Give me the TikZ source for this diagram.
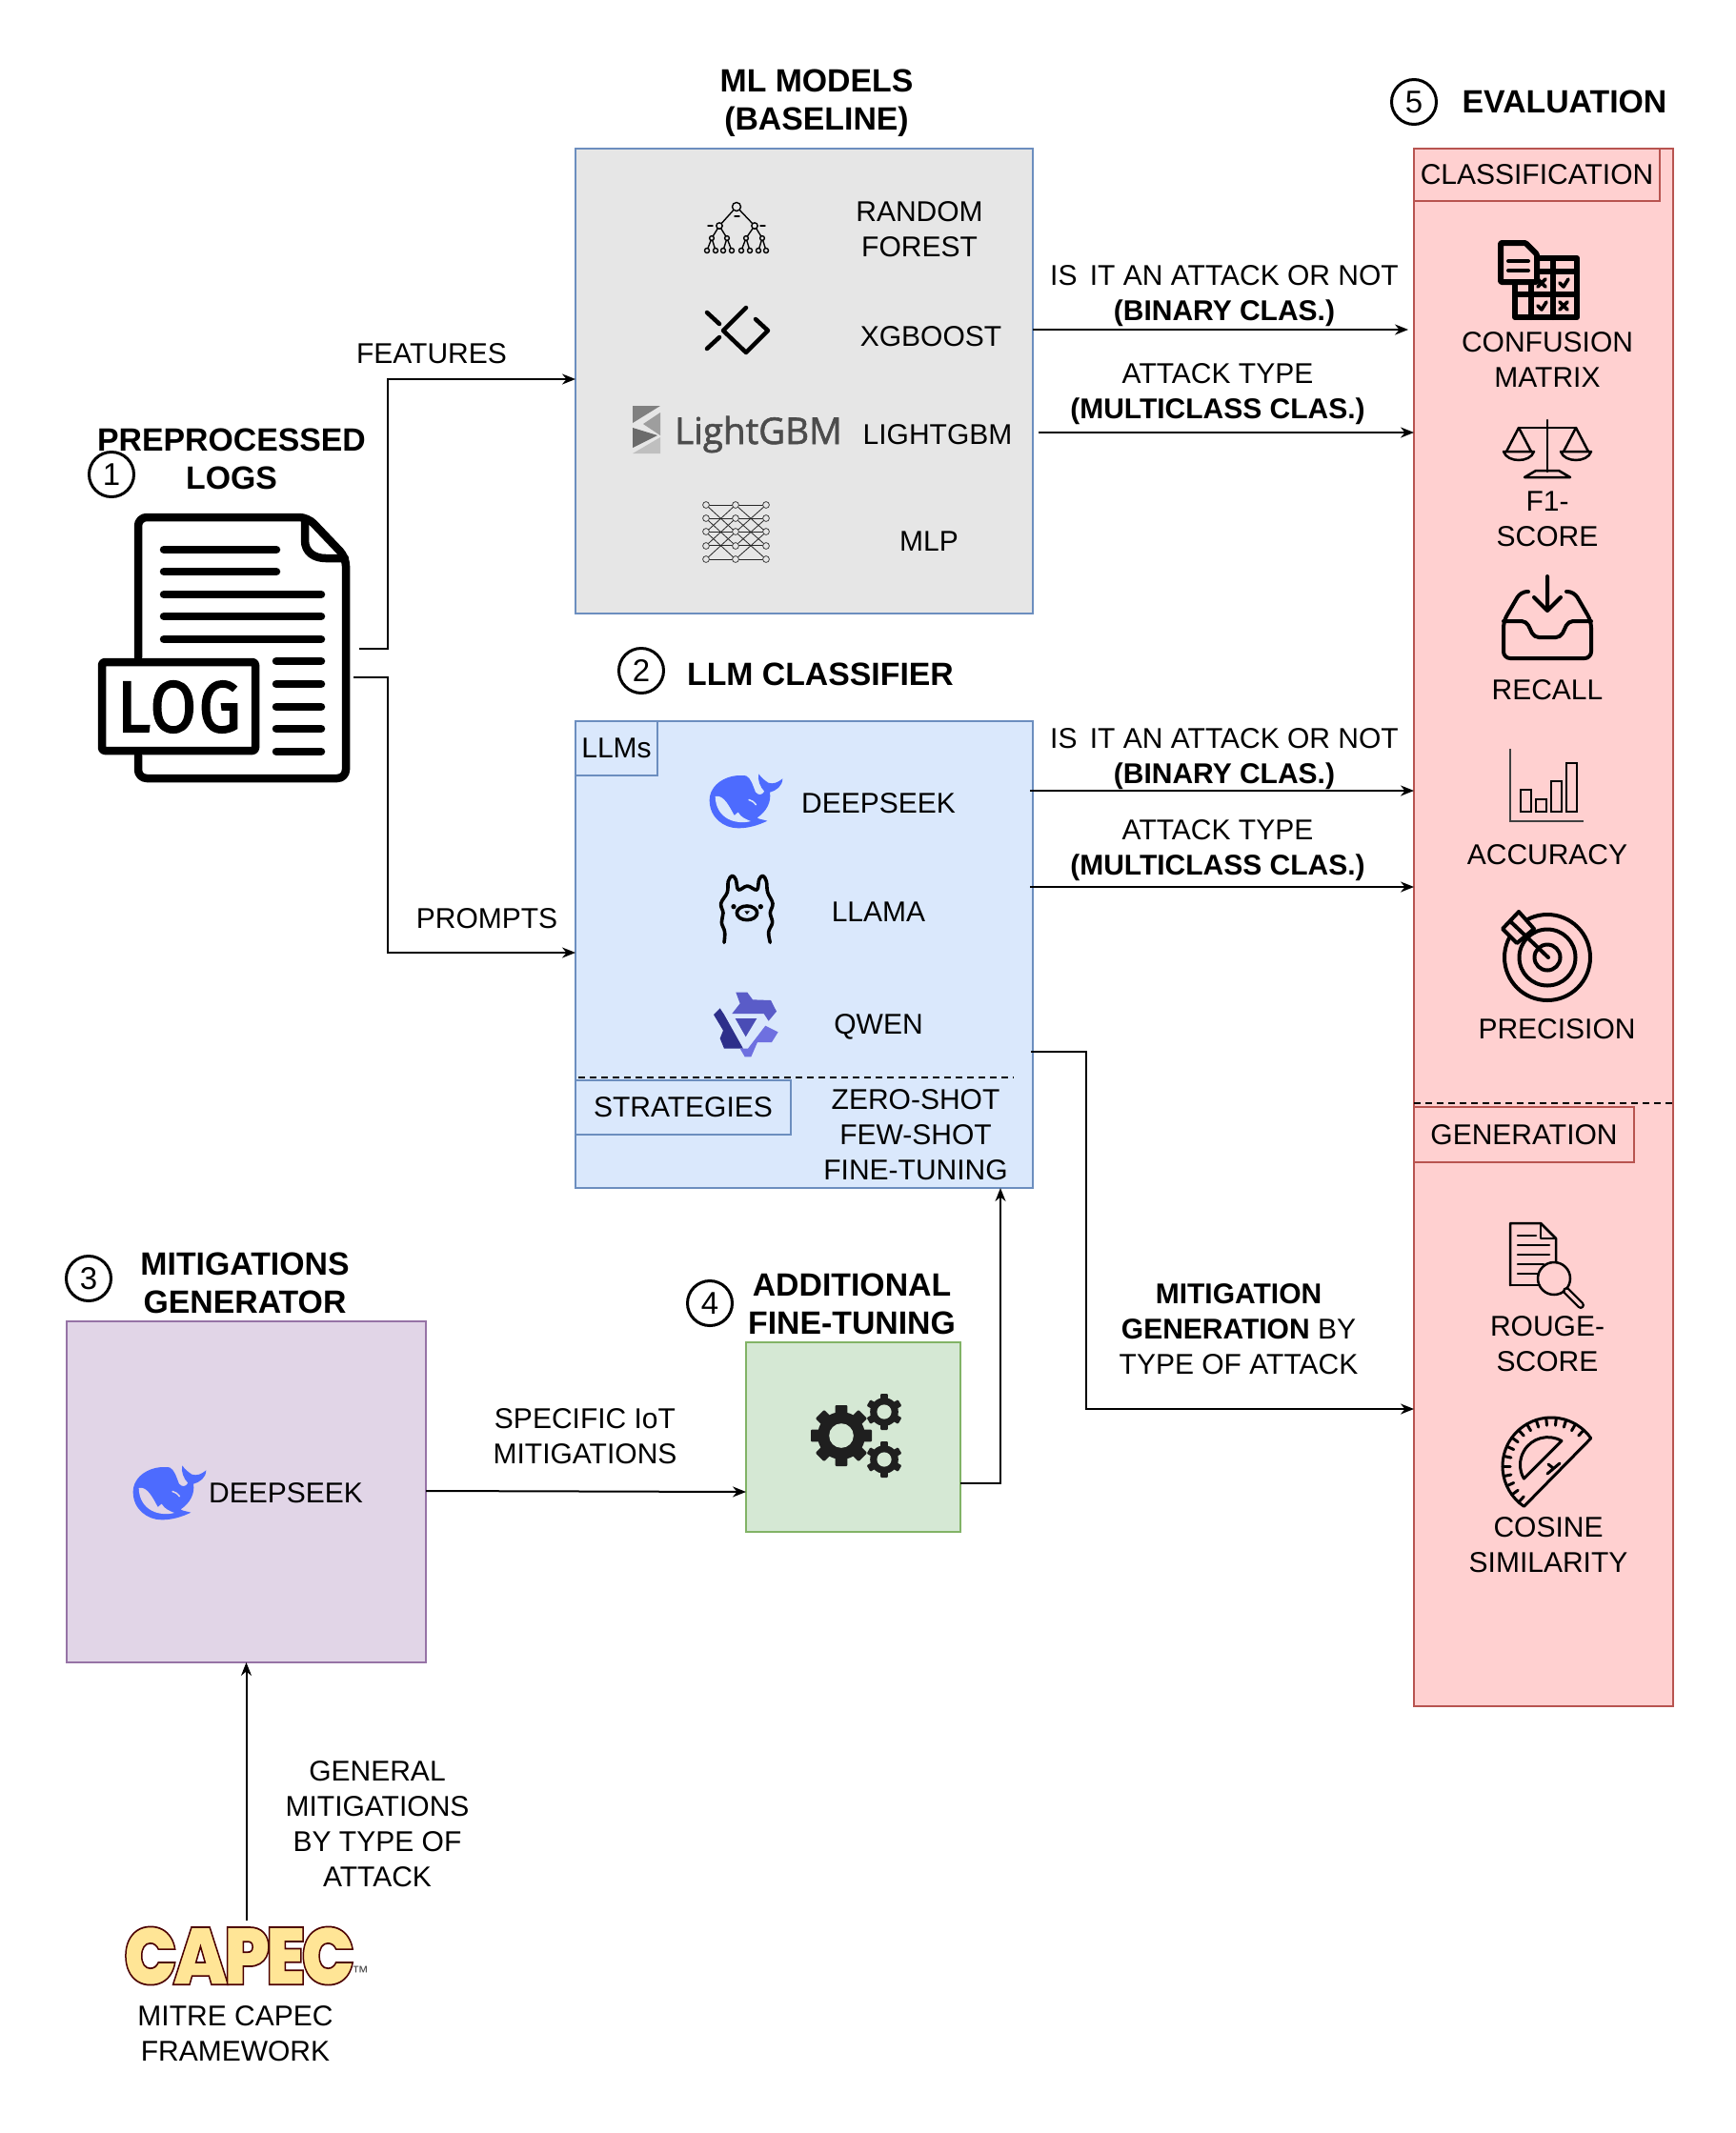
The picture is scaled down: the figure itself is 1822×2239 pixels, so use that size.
\documentclass[tikz,border=0pt]{standalone}
\usepackage{fontspec}
\setmainfont{Liberation Sans}
\newfontfamily\logofont[FakeBold=1.5]{Open Sans}
\newfontfamily\logfont[LetterSpace=4,FakeBold=2.6]{Fira Sans}
\newfontfamily\capecfont[FakeBold=2,LetterSpace=-6]{Poppins Black}
\usetikzlibrary{arrows.meta,shapes.geometric}
\definecolor{mlfill}{HTML}{E6E6E6}
\definecolor{llmfill}{HTML}{DAE8FC}
\definecolor{llmline}{HTML}{6C8EBF}
\definecolor{mitfill}{HTML}{E1D5E7}
\definecolor{mitline}{HTML}{9673A6}
\definecolor{tunefill}{HTML}{D5E8D4}
\definecolor{tuneline}{HTML}{82B366}
\definecolor{evalfill}{HTML}{FFD0D0}
\definecolor{evalline}{HTML}{B85450}
\definecolor{whaleblue}{HTML}{4D6BFE}
\definecolor{capecfill}{HTML}{FFE596}
\definecolor{qwena}{HTML}{5A5CC8}
\definecolor{qwenb}{HTML}{2D2F8A}
\definecolor{qwenc}{HTML}{6E70E0}
\definecolor{qwend}{HTML}{4A4CB5}
\tikzset{
    box/.style={draw, line width=2pt, inner sep=0pt, outer sep=0pt},
    lab/.style={font=\fontsize{30}{37}\selectfont, align=center, inner sep=0pt},
    ttl/.style={font=\fontsize{33.8}{40}\selectfont\bfseries, align=center, inner sep=0pt},
    num/.style={draw, circle, line width=3pt, minimum size=47pt, inner sep=0pt, font=\fontsize{33}{33}\selectfont},
    conn/.style={line width=2pt, -{Stealth[length=14pt,width=11pt]}},
}
\newcommand{\whaleicon}[3]{
    \begin{scope}[shift={(#1,#2)},scale=0.3333,shift={(-430,-180)}]
        \fill[whaleblue] (430,103) .. controls (370,95) and (315,130) .. (315,180)
            .. controls (315,235) and (360,268) .. (405,268)
            .. controls (440,268) and (470,258) .. (497,245)
            .. controls (480,240) and (470,240) .. (465,235)
            .. controls (495,215) and (510,185) .. (505,155)
            .. controls (525,150) and (545,135) .. (545,112)
            .. controls (530,125) and (515,130) .. (500,125)
            .. controls (490,118) and (478,110) .. (470,97)
            .. controls (465,115) and (475,140) .. (488,152)
            .. controls (480,165) and (470,165) .. (460,155)
            .. controls (450,130) and (445,110) .. (430,103) -- cycle;
        \fill[#3] (333,168) .. controls (360,160) and (380,205) .. (393,228)
            -- (405,218) .. controls (415,235) and (430,240) .. (445,246)
            .. controls (400,258) and (335,240) .. (333,168) -- cycle;
        \draw[#3, line width=1.5pt] (438,178) .. controls (448,180) and (455,186) .. (462,195);
    \end{scope}
}
\newcommand{\gearicon}[4]{
    \begin{scope}[shift={(#1,#2)}]
        \fill[black!88] (0,0) circle ({0.78*#3});
        \foreach \i in {1,...,#4}
            \fill[black!88, rotate={\i*360/#4}, rounded corners=1pt] ({-0.2*#3},0) rectangle ({0.2*#3},#3);
        \fill[tunefill] (0,0) circle ({0.4*#3});
    \end{scope}
}
\begin{document}
\begin{tikzpicture}[x=1pt, y=-1pt]
    \useasboundingbox (0,0) rectangle (1822,2239);

    \node[box, draw=llmline, fill=mlfill, minimum width=480pt, minimum height=488pt] (mlbox) at (844,400) {};
    \node[box, draw=llmline, fill=llmfill, minimum width=480pt, minimum height=490pt] (llmbox) at (844,1002) {};
    \node[box, draw=mitline, fill=mitfill, minimum width=377pt, minimum height=358pt] (mitbox) at (258.5,1566) {};
    \node[box, draw=tuneline, fill=tunefill, minimum width=225pt, minimum height=199pt] (tunebox) at (895.5,1508.5) {};
    \node[box, draw=evalline, fill=evalfill, minimum width=272pt, minimum height=1635pt] (evalbox) at (1620,973.5) {};

    \node[box, lab, draw=evalline, minimum width=258pt, minimum height=55pt] (classbox) at (1613,183.5) {CLASSIFICATION};
    \node[box, lab, draw=evalline, minimum width=231pt, minimum height=58pt] (genbox) at (1599.5,1191) {GENERATION};
    \node[box, lab, draw=llmline, minimum width=86pt, minimum height=57pt] (llmsbox) at (647,785.5) {LLMs};
    \node[box, lab, draw=llmline, minimum width=226pt, minimum height=57pt] (stratbox) at (717,1162.5) {STRATEGIES};
    \draw[line width=2pt, dash pattern=on 7pt off 5pt] (llmbox.west |- 0,1131) ++(3,0) -- (1064,1131);
    \draw[line width=2pt, dash pattern=on 7pt off 5pt] (evalbox.west |- 0,1158) -- (evalbox.east |- 0,1158);

    %TITOLI
    \node[ttl] (mltitle) at (857,108.5) {ML MODELS\\(BASELINE)};
    \node[ttl] (logtitle) at (243,482) {PREPROCESSED\\LOGS};
    \node[ttl] (llmtitle) at (861,708) {LLM CLASSIFIER};
    \node[ttl] (mittitle) at (257,1347) {MITIGATIONS\\GENERATOR};
    \node[ttl] (tunetitle) at (894,1369) {ADDITIONAL\\FINE-TUNING};
    \node[ttl] (evaltitle) at (1642,107) {EVALUATION};
    \node[num] (numa) at (117,498) {1};
    \node[num] (numb) at (673,704) {2};
    \node[num] (numc) at (93,1342) {3};
    \node[num] (numd) at (745,1368) {4};
    \node[num] (nume) at (1484,107) {5};

    %LOG
    \node[inner sep=0pt, minimum width=264pt, minimum height=281pt] (logs) at (235,680) {};
    \begin{scope}[line width=8.5pt, line cap=round, line join=round]
        \draw[rounded corners=9pt] (145,690) -- (145,543) -- (323,543) -- (363,585) -- (363,817) -- (145,817) -- (145,793);
        \draw (320,546) -- (320,567) .. controls (320,580) and (330,586) .. (342,586) -- (362,586);
        \foreach \y in {577,600} \draw (172,\y) -- (290,\y);
        \foreach \y in {624,647,671} \draw (172,\y) -- (337,\y);
        \foreach \y in {694,718,742,765,789} \draw (290,\y) -- (337,\y);
        \draw[rounded corners=3pt] (107,695) rectangle (268,788);
    \end{scope}
    \node[inner sep=0pt, font=\logfont\fontsize{76}{76}\selectfont, xscale=.92, transform shape] (logword) at (188,742) {LOG};

    %MODELLI
    \node[lab] (rflab) at (965,241) {RANDOM\\FOREST};
    \node[lab] (xgblab) at (977,353) {XGBOOST};
    \node[lab] (lgbmlab) at (984,456) {LIGHTGBM};
    \node[lab] (mlplab) at (975,568) {MLP};
    \begin{scope}[line width=1.4pt, line cap=round]
        \draw (773,217) -- (755,237) (773,217) -- (792,237);
        \draw (755,237) -- (747,250) (755,237) -- (763,250) (792,237) -- (783,250) (792,237) -- (800,250);
        \draw (747,250) -- (742,263) (747,250) -- (751,263) (763,250) -- (759,263) (763,250) -- (768,263);
        \draw (783,250) -- (778,263) (783,250) -- (787,263) (800,250) -- (796,263) (800,250) -- (804,263);
        \fill[mlfill, draw=black] (773,217) circle (4.5);
        \foreach \x in {755,792} \fill[mlfill, draw=black] (\x,237) circle (3.2);
        \foreach \x in {747,763,783,800} \fill[mlfill, draw=black] (\x,250) circle (2.4);
        \foreach \x in {742,751,759,768,778,787,796,804} \fill[mlfill, draw=black] (\x,263) circle (2.5);
        \draw (743,237) -- (748,237) (798,237) -- (803,237) (771,227) -- (776,227);
    \end{scope}
    \begin{scope}[line width=4.5pt, line cap=round, line join=round]
        \draw (742,328) -- (755,340) (742,366) -- (755,354);
        \draw (783,323) -- (759,347) -- (783,370) -- (806,347) -- (793,335);
    \end{scope}
    \fill[black!50] (664,426) -- (693,426) -- (664,444) -- cycle;
    \fill[black!38] (693,433) -- (693,457) -- (675,445) -- cycle;
    \fill[black!58] (664,449) -- (690,457) -- (664,470) -- cycle;
    \fill[black!25] (664,476) -- (693,476) -- (693,459) -- cycle;
    \node[inner sep=0pt, text=black!70, font=\logofont\fontsize{38.5}{38}\selectfont] (lgbmlogo) at (796,456) {LightGBM};
    \foreach \a in {0,...,4} \foreach \d in {-2,0,2} {
        \pgfmathtruncatemacro\b{\a+\d}
        \ifnum\b<0\else\ifnum\b>4\else
            \draw[line width=.8pt, black!85] (741,530+14.25*\a) -- (772,530+14.25*\b);
            \draw[line width=.8pt, black!85] (772,530+14.25*\a) -- (804,530+14.25*\b);
        \fi\fi
    }
    \foreach \x in {741,772,804} \foreach \y in {530,544,558,573,587}
        \fill[mlfill, draw=black!75, line width=.8pt] (\x,\y) circle (3.4);

    %LLM
    \node[lab] (dslab) at (922,843) {DEEPSEEK};
    \node[lab] (llamalab) at (922,957) {LLAMA};
    \node[lab] (qwenlab) at (922,1078) {QWEN};
    \node[lab] (stratlab) at (961,1191) {ZERO-SHOT\\FEW-SHOT\\FINE-TUNING};
    \whaleicon{783}{840}{llmfill}
    \begin{scope}[shift={(745,910)}, scale=0.3333, line width=3.6pt, line cap=round, line join=round]
        \draw plot[smooth, tension=.6] coordinates {(45,238) (47,205) (37,175) (42,145) (35,115) (55,80) (58,45) (70,28) (82,40) (90,72) (118,60) (148,72) (155,40) (167,28) (178,45) (182,80) (198,115) (190,145) (197,175) (185,205) (190,238)};
        \fill (75,125) circle (8) (160,125) circle (8);
        \draw (117,145) ellipse (32 and 22);
        \fill (109,139) -- (126,139) -- (117,150) -- cycle;
    \end{scope}
    \begin{scope}[shift={(735,1030)}, scale=0.3333]
        \fill[qwena] (112,35) -- (148,35) -- (165,58) -- (222,60) -- (240,95) -- (215,125) -- (200,102) -- (100,102) -- (125,70) -- cycle;
        \fill[qwenb] (42,105) -- (62,85) -- (75,105) -- (135,212) -- (75,212) -- (62,180) -- (72,155) -- cycle;
        \fill[qwenc] (205,140) -- (245,160) -- (225,192) -- (180,192) -- (160,238) -- (140,238) -- (125,212) -- (150,212) -- cycle;
        \fill[qwend] (110,117) -- (178,117) -- (143,175) -- cycle;
    \end{scope}

    %MITIGAZIONI
    \whaleicon{178}{1566}{mitfill}
    \node[lab] (dsbis) at (300,1567) {DEEPSEEK};
    \gearicon{883}{1507}{32}{8}
    \gearicon{928}{1482}{19}{6}
    \gearicon{928}{1532}{19}{6}

    %CAPEC
    \node[inner sep=0pt, text=capecfill, font=\capecfont\fontsize{85}{85}\selectfont, xscale=.88, transform shape] (capec) at (251,2053) {\special{pdf:code 0.3 0 0 RG}CAPEC};
    \node[inner sep=0pt, font=\fontsize{18}{18}\selectfont, text=black!70] (capectm) at (378,2070) {™};
    \node[lab] (capeclab) at (247,2135) {MITRE CAPEC\\FRAMEWORK};

    %METRICHE
    \node[lab] (cmlab) at (1624,378) {CONFUSION\\MATRIX};
    \node[lab] (f1lab) at (1624,545) {F1-\\SCORE};
    \node[lab] (reclab) at (1624,724) {RECALL};
    \node[lab] (acclab) at (1624,897) {ACCURACY};
    \node[lab] (preclab) at (1634,1080) {PRECISION};
    \node[lab] (rougelab) at (1624,1411) {ROUGE-\\SCORE};
    \node[lab] (coslab) at (1625,1622) {COSINE\\SIMILARITY};

    \begin{scope}[line width=6pt, line join=round, line cap=round]
        \draw (1590,271) rectangle (1655,333);
        \draw (1607,271) -- (1607,333) (1630,271) -- (1630,333) (1590,285) -- (1655,285) (1590,309) -- (1655,309);
        \fill[evalfill, draw=black, rounded corners=1pt] (1575,255) -- (1601,255) -- (1613,267) -- (1613,296) -- (1575,296) -- cycle;
        \draw[line width=4pt] (1583,274) -- (1604,274) (1583,284) -- (1604,284);
        \draw[line width=3.6pt] (1614,293) -- (1622,301) (1622,293) -- (1614,301);
        \draw[line width=3.6pt] (1637,317) -- (1645,325) (1645,317) -- (1637,325);
        \draw[line width=3.6pt] (1637,297) -- (1641,301) -- (1646,293);
        \draw[line width=3.6pt] (1614,321) -- (1618,325) -- (1623,317);
    \end{scope}

    \begin{scope}[line width=2.5pt, line join=round, line cap=round]
        \draw (1624,441) -- (1624,495) (1594,449) -- (1654,449);
        \draw (1600,501) -- (1648,501) -- (1636,494) -- (1612,494) -- cycle;
        \foreach \x in {0,60} {
            \draw[xshift=\x pt] (1581,474) -- (1594,449) -- (1607,474);
            \draw[xshift=\x pt] (1578,474) -- (1610,474) .. controls (1606,486) and (1582,486) .. (1578,474) -- cycle;
        }
    \end{scope}

    \begin{scope}[line width=4pt, line join=round, line cap=round]
        \draw (1624,605) -- (1624,641) (1610,627) -- (1624,641) -- (1638,627);
        \draw[rounded corners=7pt] (1604,621) -- (1596,621) -- (1578,652) -- (1578,691) -- (1670,691) -- (1670,652) -- (1652,621) -- (1644,621);
        \draw[rounded corners=5pt] (1578,652) -- (1602,652) -- (1610,669) -- (1638,669) -- (1646,652) -- (1670,652);
    \end{scope}

    \draw[line width=2pt, black!75] (1585,786) -- (1585,862) -- (1662,862);
    \foreach \x/\y in {1596/829,1612/839,1628/820,1644/801}
        \draw[line width=2pt] (\x,\y) rectangle (\x+11,852);

    \begin{scope}[line width=4pt, line join=round, line cap=round]
        \draw (1624,1005) circle (45) (1624,1005) circle (29.5) (1624,1005) circle (13.5);
        \fill[evalfill, draw=black] (1577,975) -- (1594,957) -- (1610,975) -- (1592,990) -- cycle;
        \draw (1625,1005) -- (1586,968);
    \end{scope}

    \begin{scope}[line width=2.5pt, line join=round, line cap=round]
        \draw (1585,1349) -- (1585,1284) -- (1617,1284) -- (1633,1300) -- (1633,1325);
        \draw (1585,1349) -- (1616,1349) (1617,1284) -- (1617,1300) -- (1633,1300);
        \draw (1593,1297) -- (1612,1297);
        \foreach \y in {1307,1317} \draw (1593,\y) -- (1626,\y);
        \draw (1593,1327) -- (1620,1327) (1593,1337) -- (1614,1337);
        \draw (1631,1342) circle (17);
        \draw[line width=8pt] (1644,1355) -- (1659,1370);
        \draw[evalfill, line width=3.5pt] (1644,1355) -- (1659,1370);
    \end{scope}

    \begin{scope}[line width=3pt, line join=round, line cap=round]
        \draw (1628,1539) ++(-35:51) arc[start angle=-35, end angle=-236, radius=51] -- cycle;
        \foreach \a in {-48,-60,...,-228} \draw (1628,1539) ++(\a:43) -- ++(\a:8);
        \draw (1624.5,1537.6) ++(-60:29) arc[start angle=-60, end angle=-210, radius=29] -- cycle;
        \draw (1624,1547) -- (1637,1536) (1630,1541) -- (1625,1537);
    \end{scope}

    %FRECCE
    \draw[conn] (logs.east |- 0,681) ++(10,0) -| (407,398) -- (mlbox.west |- 0,398);
    \draw[conn] (logs.east |- 0,711) ++(4,0) -| (407,1000) -- (llmbox.west |- 0,1000);
    \node[lab] (featlab) at (453,371) {FEATURES};
    \node[lab] (promptlab) at (511,964) {PROMPTS};

    \draw[conn] (mlbox.east |- 0,346) -- ([xshift=-6pt]evalbox.west |- 0,346);
    \draw[conn] ([xshift=6pt]mlbox.east |- 0,454) -- (evalbox.west |- 0,454);
    \draw[conn] ([xshift=-3pt]llmbox.east |- 0,830) -- (evalbox.west |- 0,830);
    \draw[conn] ([xshift=-3pt]llmbox.east |- 0,931) -- (evalbox.west |- 0,931);
    \draw[conn] ([xshift=-2pt]llmbox.east |- 0,1104) -- (1140,1104) -- (1140,1479) -- (evalbox.west |- 0,1479);
    \node[lab] (binlaba) at (1285,311) {IS\, IT AN ATTACK OR NOT\\\textbf{(BINARY CLAS.)}};
    \node[lab] (mullaba) at (1278,414) {ATTACK TYPE\\\textbf{(MULTICLASS CLAS.)}};
    \node[lab] (binlabb) at (1285,797) {IS\, IT AN ATTACK OR NOT\\\textbf{(BINARY CLAS.)}};
    \node[lab] (mullabb) at (1278,893) {ATTACK TYPE\\\textbf{(MULTICLASS CLAS.)}};
    \node[lab] (genlab) at (1300,1395) {\textbf{MITIGATION}\\\textbf{GENERATION} BY\\TYPE OF ATTACK};

    \draw[conn] (mitbox.east |- 0,1565) -- (tunebox.west |- 0,1566);
    \node[lab] (iotlab) at (614,1508) {SPECIFIC IoT\\MITIGATIONS};
    \draw[conn] (tunebox.east |- 0,1557) -- (1050,1557) -- (llmbox.south -| 1050,0);
    \draw[conn] (mitbox.south |- 0,2016) -- (mitbox.south);
    \node[lab] (genmitlab) at (396,1915) {GENERAL\\MITIGATIONS\\BY TYPE OF\\ATTACK};
\end{tikzpicture}
\end{document}
